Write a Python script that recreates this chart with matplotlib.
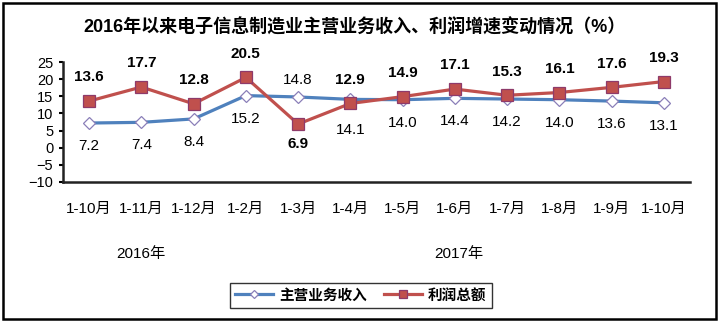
import matplotlib.pyplot as plt
from matplotlib.patches import Rectangle

plt.rcParams['font.family'] = ['Liberation Sans', 'Noto Sans CJK SC', 'DejaVu Sans']

# data
months = ['1-10月', '1-11月', '1-12月', '1-2月', '1-3月', '1-4月',
          '1-5月', '1-6月', '1-7月', '1-8月', '1-9月', '1-10月']
revenue = [7.2, 7.4, 8.4, 15.2, 14.8, 14.1, 14.0, 14.4, 14.2, 14.0, 13.6, 13.1]
profit = [13.6, 17.7, 12.8, 20.5, 6.9, 12.9, 14.9, 17.1, 15.3, 16.1, 17.6, 19.3]
series_names = ['主营业务收入', '利润总额']
title = '2016年以来电子信息制造业主营业务收入、利润增速变动情况（%）'

blue = '#4F81BD'
red = '#C0504D'

fig = plt.figure(figsize=(7.21, 3.23), dpi=100)
ax = fig.add_axes([63 / 721, 1 - 182 / 323, 627 / 721, 120 / 323])

x = range(len(months))
ax.plot(x, revenue, color=blue, lw=2.3, marker='D', ms=6.5,
        mfc='white', mec='#8A7FB8', mew=0.9, label=series_names[0], zorder=3)
ax.plot(x, profit, color=red, lw=2.3, marker='s', ms=8.5,
        mfc=red, mec='#8E3A6A', mew=0.9, label=series_names[1], zorder=4)

# data labels (1-3月 swaps sides since profit dips below revenue)
for i, v in enumerate(revenue):
    if i == 4:
        off = 12
    elif i == 5:
        off = -22
    else:
        off = -16.5
    ax.annotate(f'{v:.1f}', (i, v), xytext=(0, off), textcoords='offset points',
                ha='center', va='center', fontsize=11, color='black')
for i, v in enumerate(profit):
    off = -14.5 if i == 4 else 17
    ax.annotate(f'{v:.1f}', (i, v), xytext=(0, off), textcoords='offset points',
                ha='center', va='center', fontsize=11, fontweight='bold', color='black')

ax.set_xlim(-0.5, len(months) - 0.5)
ax.set_ylim(-10, 25)
ax.set_yticks(range(-10, 26, 5))
ax.set_xticks(list(x))
ax.set_xticklabels(months, fontsize=11)
ax.tick_params(axis='y', labelsize=10.5, direction='out', length=3, width=1.5, pad=4)
ax.tick_params(axis='x', length=0, pad=14)

for s in ['top', 'right']:
    ax.spines[s].set_visible(False)
for s in ['left', 'bottom']:
    ax.spines[s].set_linewidth(1.8)
    ax.spines[s].set_color('#222222')

fig.text(0.492, 0.916, title, ha='center', va='center', fontsize=13, fontweight='bold')
fig.text(141 / 721, 1 - 254 / 323, '2016年', ha='center', va='center', fontsize=11)
fig.text(459 / 721, 1 - 254 / 323, '2017年', ha='center', va='center', fontsize=11)

leg = fig.legend(loc='center', bbox_to_anchor=(361 / 721, 1 - 295.5 / 323), ncol=2,
                 frameon=True, fancybox=False, edgecolor='black', fontsize=10.5,
                 handlelength=2.6, columnspacing=1.2, borderpad=0.35, markerscale=0.6,
                 handletextpad=0.4)
leg.get_frame().set_linewidth(1.0)
for t in leg.get_texts():
    t.set_fontweight('bold')

# outer chart border
fig.patches.append(Rectangle((3 / 721, 4 / 323), 713 / 721, 316 / 323,
                             transform=fig.transFigure, fill=False,
                             edgecolor='black', linewidth=1.8))

fig.savefig('out.png', dpi=100)
